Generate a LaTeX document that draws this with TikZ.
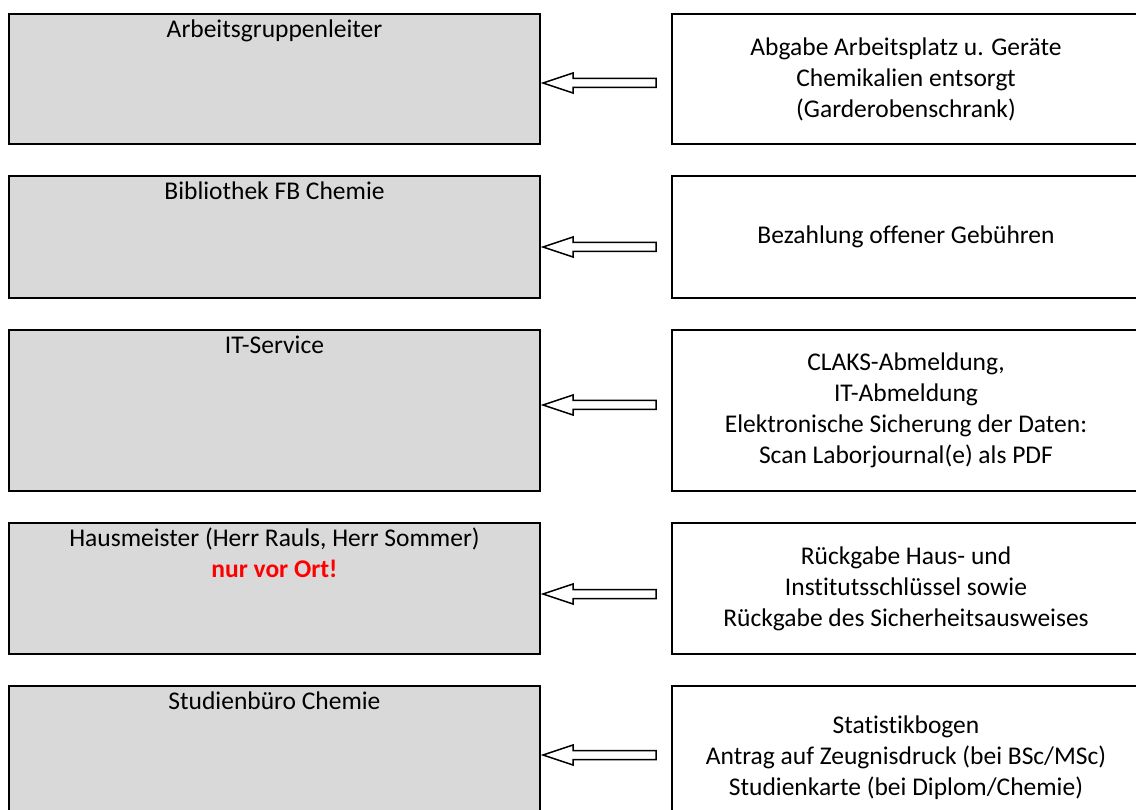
\documentclass[tikz,border=0pt]{standalone}
\usepackage{fontspec}
\setmainfont{Carlito}[Ligatures=NoCommon]
\usetikzlibrary{positioning,calc}
\definecolor{boxgrey}{HTML}{D9D9D9}

\begin{document}
\begin{tikzpicture}[x=1pt, y=-1pt, node distance=29.5pt,
		office/.style = {draw, fill=boxgrey, line width=2.5pt, minimum width=531pt, inner sep=0pt},
		task/.style = {draw, line width=2.5pt, minimum width=468pt, inner sep=0pt, align=center, font=\fontsize{25.5}{31}\selectfont},
		title/.style = {anchor=base, inner sep=0pt, font=\fontsize{25.5}{31}\selectfont},
		back/.style = {draw, fill=white, line width=1.5pt, line join=miter, to path={($(\tikztostart)+(0,-4.5)$) -- ($(\tikztotarget)+(30,-4.5)$) -- ($(\tikztotarget)+(30,-10)$) -- (\tikztotarget) -- ($(\tikztotarget)+(30,10)$) -- ($(\tikztotarget)+(30,4.5)$) -- ($(\tikztostart)+(0,4.5)$) -- cycle}}]
		\clip (0,0) rectangle (1136,810);
		\node[office, minimum height=130pt] (g1) at (274.5,79) {};
		\node[office, minimum height=122pt] (g2) [below=of g1] {};
		\node[office, minimum height=161pt] (g3) [below=of g2] {};
		\node[office, minimum height=131pt] (g4) [below=of g3] {};
		\node[office, minimum height=143pt] (g5) [below=of g4] {};
		\node[title] (n1) at ([yshift=-25pt]g1.north) {Arbeitsgruppenleiter};
		\node[title] (n2) at ([yshift=-25pt]g2.north) {Bibliothek FB Chemie};
		\node[title] (n3) at ([yshift=-25pt]g3.north) {IT-Service};
		\node[title] (n4) at ([yshift=-25pt]g4.north) {Hausmeister (Herr Rauls, Herr Sommer)};
		\node[title, text=red, font=\fontsize{25.5}{31}\selectfont\bfseries] (w4) at ([yshift=-31pt]n4.base) {nur vor Ort!};
		\node[title] (n5) at ([yshift=-25pt]g5.north) {Studienbüro Chemie};
		\node[task, minimum height=130pt] (t1) [right=129.5pt of g1] {Abgabe Arbeitsplatz u. Geräte\\Chemikalien entsorgt\\(Garderobenschrank)};
		\node[task, minimum height=122pt] (t2) [right=129.5pt of g2] {Bezahlung offener Gebühren};
		\node[task, minimum height=161pt] (t3) [right=129.5pt of g3] {CLAKS-Abmeldung,\\IT-Abmeldung\\Elektronische Sicherung der Daten:\\Scan Laborjournal(e) als PDF};
		\node[task, minimum height=131pt] (t4) [right=129.5pt of g4] {Rückgabe Haus- und\\Institutsschlüssel sowie\\Rückgabe des Sicherheitsausweises};
		\node[task, minimum height=143pt] (t5) [right=129.5pt of g5] {Statistikbogen\\Antrag auf Zeugnisdruck (bei BSc/MSc)\\Studienkarte (bei Diplom/Chemie)};
		\coordinate (s1) at (656,83);
		\coordinate (e1) at (543,83);
		\coordinate (s2) at (656,247);
		\coordinate (e2) at (543,247);
		\coordinate (s3) at (656,405);
		\coordinate (e3) at (543,405);
		\coordinate (s4) at (656,594);
		\coordinate (e4) at (543,594);
		\coordinate (s5) at (656,755);
		\coordinate (e5) at (543,755);
		\draw[back] (s1) to (e1);
		\draw[back] (s2) to (e2);
		\draw[back] (s3) to (e3);
		\draw[back] (s4) to (e4);
		\draw[back] (s5) to (e5);
	\end{tikzpicture}
\end{document}
